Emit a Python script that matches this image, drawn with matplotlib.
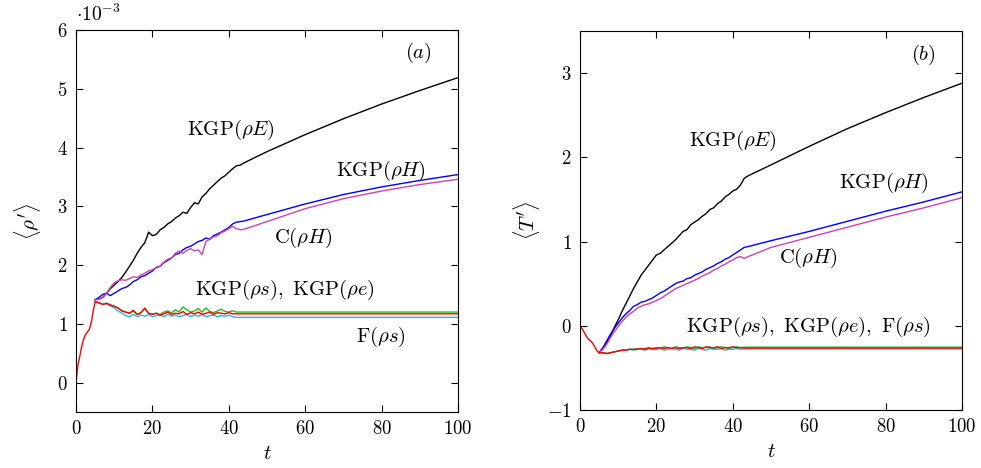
import matplotlib
matplotlib.use("Agg")
import matplotlib.pyplot as plt

plt.rcParams["mathtext.fontset"] = "cm"
plt.rcParams["font.family"] = "serif"
plt.rcParams["font.size"] = 12

# time grids
t_early = [0, 0.5, 1, 1.5, 2, 2.5, 3, 3.5, 4, 4.5]
t_grid = [5, 6, 7, 8, 9, 10, 11, 12, 13, 14, 15, 16, 17, 18, 19, 20, 21, 22, 23, 24,
          25, 26, 27, 28, 29, 30, 31, 32, 33, 34, 35, 36, 37, 38, 39, 40, 41, 42, 43, 44,
          50, 60, 70, 80, 90, 100]

# (a) <rho'>, units of 1e-3
a_kgp_E = [1.41, 1.42, 1.45, 1.52, 1.6, 1.66, 1.72, 1.79, 1.88, 1.98,
           2.08, 2.2, 2.3, 2.38, 2.56, 2.5, 2.52, 2.6, 2.64, 2.7,
           2.74, 2.8, 2.84, 2.9, 2.88, 2.98, 3.06, 3.04, 3.16, 3.22,
           3.3, 3.36, 3.42, 3.48, 3.52, 3.58, 3.64, 3.69, 3.7, 3.74,
           3.93, 4.22, 4.49, 4.74, 4.97, 5.19]
a_kgp_H = [1.41, 1.45, 1.5, 1.52, 1.48, 1.52, 1.56, 1.6, 1.62, 1.66,
           1.72, 1.75, 1.8, 1.82, 1.86, 1.9, 1.96, 1.98, 2.04, 2.08,
           2.12, 2.18, 2.2, 2.26, 2.3, 2.32, 2.36, 2.4, 2.42, 2.46,
           2.44, 2.5, 2.53, 2.56, 2.6, 2.64, 2.7, 2.73, 2.74, 2.75,
           2.86, 3.04, 3.2, 3.33, 3.44, 3.54]
a_c_H = [1.41, 1.42, 1.45, 1.52, 1.62, 1.7, 1.73, 1.75, 1.74, 1.77,
         1.8, 1.79, 1.83, 1.86, 1.9, 1.92, 1.95, 1.98, 2.05, 2.1,
         2.12, 2.2, 2.24, 2.2, 2.25, 2.28, 2.24, 2.26, 2.18, 2.4,
         2.44, 2.48, 2.5, 2.55, 2.58, 2.62, 2.66, 2.62, 2.6, 2.61,
         2.74, 2.96, 3.13, 3.26, 3.37, 3.46]
a_kgp_s = [1.38, 1.36, 1.33, 1.35, 1.32, 1.3, 1.27, 1.22, 1.2, 1.18,
           1.22, 1.16, 1.19, 1.25, 1.18, 1.17, 1.18, 1.16, 1.2, 1.22,
           1.18, 1.24, 1.2, 1.29, 1.24, 1.2, 1.22, 1.26, 1.2, 1.27,
           1.21, 1.19, 1.22, 1.25, 1.21, 1.2, 1.22, 1.2, 1.2, 1.2,
           1.2, 1.2, 1.2, 1.2, 1.2, 1.2]
a_f_s = [1.37, 1.36, 1.33, 1.34, 1.3, 1.27, 1.22, 1.18, 1.14, 1.12,
         1.16, 1.12, 1.15, 1.13, 1.16, 1.12, 1.14, 1.15, 1.12, 1.16,
         1.13, 1.15, 1.12, 1.14, 1.16, 1.12, 1.15, 1.13, 1.16, 1.12,
         1.14, 1.15, 1.12, 1.14, 1.13, 1.15, 1.12, 1.11, 1.11, 1.11,
         1.11, 1.11, 1.11, 1.11, 1.11, 1.11]
a_kgp_e_early = [0, 0.3, 0.45, 0.62, 0.74, 0.82, 0.86, 0.91, 1.02, 1.22]
a_kgp_e = [1.37, 1.36, 1.33, 1.35, 1.32, 1.3, 1.27, 1.22, 1.2, 1.18,
           1.23, 1.16, 1.19, 1.27, 1.18, 1.16, 1.18, 1.15, 1.17, 1.2,
           1.16, 1.18, 1.17, 1.21, 1.16, 1.19, 1.17, 1.2, 1.16, 1.18,
           1.2, 1.16, 1.19, 1.18, 1.17, 1.19, 1.17, 1.17, 1.17, 1.17,
           1.17, 1.17, 1.17, 1.17, 1.17, 1.17]

# (b) <T'>
b_kgp_E = [-0.32, -0.27, -0.2, -0.12, -0.02, 0.07, 0.17, 0.26, 0.35, 0.44,
           0.52, 0.6, 0.66, 0.72, 0.78, 0.84, 0.86, 0.9, 0.94, 0.98,
           1.02, 1.07, 1.12, 1.14, 1.2, 1.23, 1.26, 1.3, 1.33, 1.38,
           1.4, 1.45, 1.48, 1.53, 1.56, 1.6, 1.62, 1.67, 1.75, 1.78,
           1.91, 2.13, 2.34, 2.53, 2.71, 2.88]
b_kgp_H = [-0.32, -0.26, -0.18, -0.1, -0.03, 0.03, 0.09, 0.14, 0.18, 0.23,
           0.25, 0.28, 0.29, 0.31, 0.33, 0.36, 0.39, 0.41, 0.44, 0.47,
           0.5, 0.52, 0.53, 0.56, 0.57, 0.6, 0.62, 0.64, 0.67, 0.69,
           0.71, 0.74, 0.76, 0.79, 0.81, 0.84, 0.87, 0.9, 0.93, 0.94,
           1.01, 1.12, 1.24, 1.36, 1.47, 1.59]
b_c_H = [-0.32, -0.28, -0.22, -0.14, -0.07, -0.01, 0.05, 0.1, 0.14, 0.17,
         0.21, 0.23, 0.25, 0.26, 0.28, 0.3, 0.32, 0.35, 0.38, 0.41,
         0.44, 0.46, 0.48, 0.5, 0.52, 0.54, 0.56, 0.59, 0.61, 0.63,
         0.66, 0.68, 0.71, 0.73, 0.76, 0.78, 0.81, 0.82, 0.8, 0.82,
         0.93, 1.05, 1.17, 1.29, 1.40, 1.52]
b_kgp_s = [-0.32, -0.32, -0.33, -0.32, -0.31, -0.3, -0.29, -0.29, -0.28, -0.28,
           -0.27, -0.28, -0.27, -0.26, -0.27, -0.26, -0.27, -0.25, -0.26, -0.27,
           -0.25, -0.26, -0.27, -0.25, -0.26, -0.27, -0.25, -0.26, -0.26, -0.25,
           -0.27, -0.26, -0.25, -0.26, -0.27, -0.26, -0.25, -0.26, -0.255, -0.255,
           -0.255, -0.255, -0.255, -0.255, -0.255, -0.255]
b_f_s = [-0.32, -0.32, -0.33, -0.32, -0.31, -0.3, -0.29, -0.29, -0.28, -0.29,
         -0.28, -0.28, -0.29, -0.27, -0.28, -0.28, -0.27, -0.29, -0.28, -0.27,
         -0.28, -0.29, -0.27, -0.28, -0.28, -0.29, -0.27, -0.28, -0.29, -0.27,
         -0.28, -0.28, -0.27, -0.29, -0.28, -0.28, -0.27, -0.28, -0.275, -0.275,
         -0.275, -0.275, -0.275, -0.275, -0.275, -0.275]
b_kgp_e_early = [0, -0.03, -0.07, -0.11, -0.15, -0.17, -0.19, -0.22, -0.26, -0.3]
b_kgp_e = [-0.32, -0.32, -0.33, -0.32, -0.31, -0.3, -0.29, -0.29, -0.28, -0.28,
           -0.28, -0.27, -0.28, -0.27, -0.27, -0.27, -0.26, -0.27, -0.26, -0.27,
           -0.26, -0.27, -0.26, -0.26, -0.27, -0.25, -0.26, -0.27, -0.25, -0.26,
           -0.26, -0.25, -0.27, -0.26, -0.26, -0.25, -0.26, -0.26, -0.265, -0.265,
           -0.265, -0.265, -0.265, -0.265, -0.265, -0.265]

c_black = "black"
c_blue = "#0000ff"
c_magenta = "#d43fb4"
c_green = "#1fbf1f"
c_cyan = "#2ab4ee"
c_red = "#ff0000"


def draw(ax, E, H, cH, s, f, e_early, e):
    lw = 1.0
    ax.plot(t_grid, E, color=c_black, lw=lw)
    ax.plot(t_grid, H, color=c_blue, lw=lw)
    ax.plot(t_grid, cH, color=c_magenta, lw=lw)
    ax.plot(t_grid, s, color=c_green, lw=lw)
    ax.plot(t_grid, f, color=c_cyan, lw=lw)
    ax.plot(t_early + t_grid, e_early + e, color=c_red, lw=lw)
    ax.set_xlim(0, 100)
    ax.set_xticks([0, 20, 40, 60, 80, 100])
    ax.set_xticklabels(["$%d$" % v for v in [0, 20, 40, 60, 80, 100]])
    ax.tick_params(direction="in", top=True, right=True, length=5, width=0.8,
                   labelsize=13.5, pad=6)
    ax.set_xlabel("$t$", fontsize=15, labelpad=4)
    for sp in ax.spines.values():
        sp.set_linewidth(0.8)


fig = plt.figure(figsize=(9.81, 4.68), dpi=100)
ax1 = fig.add_axes([0.0775, 0.1197, 0.3894, 0.8162])
ax2 = fig.add_axes([0.5912, 0.124, 0.3894, 0.8098])

fs = 14.8

draw(ax1, a_kgp_E, a_kgp_H, a_c_H, a_kgp_s, a_f_s, a_kgp_e_early, a_kgp_e)
ax1.set_ylim(-0.5, 6)
ax1.set_yticks([0, 1, 2, 3, 4, 5, 6])
ax1.set_yticklabels(["$%d$" % v for v in range(7)])
ax1.set_ylabel(r"$\langle \rho^{\prime} \rangle$", fontsize=15, labelpad=10)
ax1.text(0.0, 1.012, r"$\cdot 10^{-3}$", transform=ax1.transAxes, fontsize=14,
         ha="left", va="bottom")
ax1.text(40.6, 4.30, r"$\mathrm{KGP}(\rho E)$", fontsize=fs, ha="center", va="center")
ax1.text(79.8, 3.61, r"$\mathrm{KGP}(\rho H)$", fontsize=fs, ha="center", va="center")
ax1.text(59.4, 2.47, r"$\mathrm{C}(\rho H)$", fontsize=fs, ha="center", va="center")
ax1.text(54.7, 1.58, r"$\mathrm{KGP}(\rho s),\ \mathrm{KGP}(\rho e)$", fontsize=fs,
         ha="center", va="center")
ax1.text(79.8, 0.78, r"$\mathrm{F}(\rho s)$", fontsize=fs, ha="center", va="center")
ax1.text(89.5, 5.61, r"$(a)$", fontsize=fs, ha="center", va="center")

draw(ax2, b_kgp_E, b_kgp_H, b_c_H, b_kgp_s, b_f_s, b_kgp_e_early, b_kgp_e)
ax2.set_ylim(-1, 3.5)
ax2.set_yticks([-1, 0, 1, 2, 3])
ax2.set_yticklabels(["$%d$" % v for v in [-1, 0, 1, 2, 3]])
ax2.set_ylabel(r"$\langle T^{\prime} \rangle$", fontsize=15, labelpad=4)
ax2.text(40.1, 2.19, r"$\mathrm{KGP}(\rho E)$", fontsize=fs, ha="center", va="center")
ax2.text(79.6, 1.70, r"$\mathrm{KGP}(\rho H)$", fontsize=fs, ha="center", va="center")
ax2.text(59.7, 0.81, r"$\mathrm{C}(\rho H)$", fontsize=fs, ha="center", va="center")
ax2.text(59.7, -0.01, r"$\mathrm{KGP}(\rho s),\ \mathrm{KGP}(\rho e),\ \mathrm{F}(\rho s)$",
         fontsize=fs, ha="center", va="center")
ax2.text(89.8, 3.21, r"$(b)$", fontsize=fs, ha="center", va="center")

fig.savefig("out.png", dpi=100)
